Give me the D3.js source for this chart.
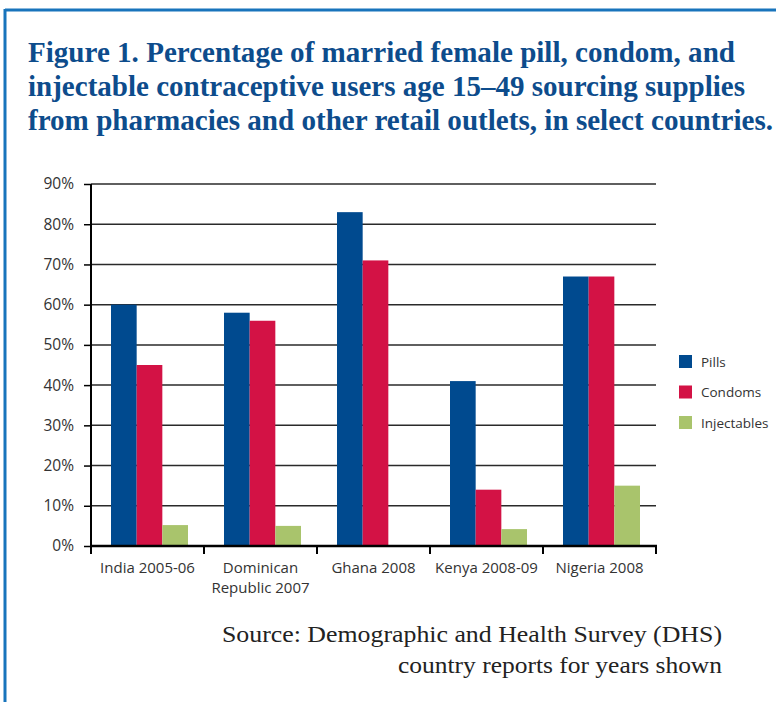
<!DOCTYPE html>
<html><head><meta charset="utf-8">
<script src="https://cdn.jsdelivr.net/npm/d3@7"></script>
<style>body{margin:0;background:#fff}svg{display:block}</style>
</head><body>
<script>
const categories = [["India 2005-06"], ["Dominican", "Republic 2007"], ["Ghana 2008"], ["Kenya 2008-09"], ["Nigeria 2008"]];
const seriesNames = ["Pills", "Condoms", "Injectables"];
const pills = [60, 58, 83, 41, 67];
const condoms = [45, 56, 71, 14, 67];
const injectables = [5.2, 5, 0, 4.2, 15];
const yTicks = [0, 10, 20, 30, 40, 50, 60, 70, 80, 90];
const colors = ["#004A8F", "#D31245", "#A9C46C"];
const titleLines = ["Figure 1. Percentage of married female pill, condom, and",
  "injectable contraceptive users age 15\u201349 sourcing supplies",
  "from pharmacies and other retail outlets, in select countries."];
const sourceLines = ["Source: Demographic and Health Survey (DHS)", "country reports for years shown"];

const W = 776, H = 702;
const svg = d3.select("body").append("svg").attr("width", W).attr("height", H);

// frame
svg.append("line").attr("x1", 5).attr("x2", W).attr("y1", 10).attr("y2", 10).attr("stroke", "#1874BC").attr("stroke-width", 3);
svg.append("line").attr("x1", 5).attr("x2", 5).attr("y1", 9).attr("y2", H).attr("stroke", "#1874BC").attr("stroke-width", 3);

// title
const titleW = [707, 717, 745];
titleLines.forEach((t, i) => {
  svg.append("text").attr("x", 28).attr("y", 62 + i * 34)
    .attr("font-family", "Liberation Serif, serif").attr("font-weight", "bold")
    .attr("font-size", 29).attr("fill", "#0D4C8C")
    .attr("textLength", titleW[i]).attr("lengthAdjust", "spacingAndGlyphs")
    .text(t);
});

const m = {l: 91, r: 656, t: 184, b: 546};
const x = d3.scaleBand().domain(d3.range(categories.length)).range([m.l, m.r]).paddingInner(0).paddingOuter(0);
const y = d3.scaleLinear().domain([0, 90]).range([m.b, m.t]);
const xs = d3.scaleBand().domain(d3.range(3)).range([20, 20 + 77]).padding(0);

// gridlines
svg.append("g").selectAll("line").data(yTicks.filter(d => d > 0)).join("line")
  .attr("x1", m.l).attr("x2", m.r).attr("y1", d => y(d)).attr("y2", d => y(d))
  .attr("stroke", "#2a2a2a").attr("stroke-width", 1.5);

// bars
const series = [pills, condoms, injectables];
series.forEach((vals, si) => {
  svg.append("g").selectAll("rect").data(vals).join("rect")
    .attr("x", (d, i) => x(i) + xs(si)).attr("width", xs.bandwidth())
    .attr("y", d => y(d)).attr("height", d => y(0) - y(d))
    .attr("fill", colors[si]);
});

// y axis
const yAxis = svg.append("g").attr("transform", `translate(${m.l},0)`)
  .call(d3.axisLeft(y).tickValues(yTicks).tickFormat(d => d + "%").tickSize(7).tickPadding(10));
yAxis.select(".domain").attr("stroke", "#000").attr("stroke-width", 2).attr("d", `M0,${m.t}V${m.b}`);
yAxis.selectAll(".tick line").attr("stroke", "#000").attr("stroke-width", 1.5);
yAxis.selectAll("text").attr("font-family", "Open Sans, sans-serif").attr("font-size", 15.5).attr("fill", "#333");

// x axis
const xAxisG = svg.append("g").attr("transform", `translate(0,${m.b})`);
xAxisG.append("line").attr("x1", m.l).attr("x2", m.r + 1).attr("y1", 0).attr("y2", 0).attr("stroke", "#000").attr("stroke-width", 2.5);
const edges = d3.range(categories.length + 1).map(i => i < categories.length ? x(i) : x(i - 1) + x.bandwidth());
xAxisG.selectAll(".xt").data(edges).join("line").attr("class", "xt")
  .attr("x1", d => d).attr("x2", d => d).attr("y1", 0).attr("y2", 8).attr("stroke", "#000").attr("stroke-width", 2);
categories.forEach((lines, i) => {
  lines.forEach((l, j) => {
    xAxisG.append("text").attr("x", x(i) + x.bandwidth() / 2).attr("y", 27 + j * 20)
      .attr("text-anchor", "middle").attr("font-family", "Open Sans, sans-serif").attr("font-size", 15).attr("fill", "#333")
      .text(l);
  });
});

// legend
seriesNames.forEach((n, i) => {
  const g = svg.append("g").attr("transform", `translate(679,${355 + i * 30.5})`);
  g.append("rect").attr("width", 13).attr("height", 13).attr("fill", colors[i]);
  g.append("text").attr("x", 22).attr("y", 11.5).attr("font-family", "Open Sans, sans-serif")
    .attr("font-size", 13.5).attr("fill", "#333").text(n);
});

// source
const sourceW = [500, 324];
sourceLines.forEach((s, i) => {
  svg.append("text").attr("x", 722).attr("y", 642 + i * 31).attr("text-anchor", "end")
    .attr("font-family", "Liberation Serif, serif").attr("font-size", 24).attr("fill", "#222")
    .attr("textLength", sourceW[i]).attr("lengthAdjust", "spacingAndGlyphs").text(s);
});
</script>
</body></html>
